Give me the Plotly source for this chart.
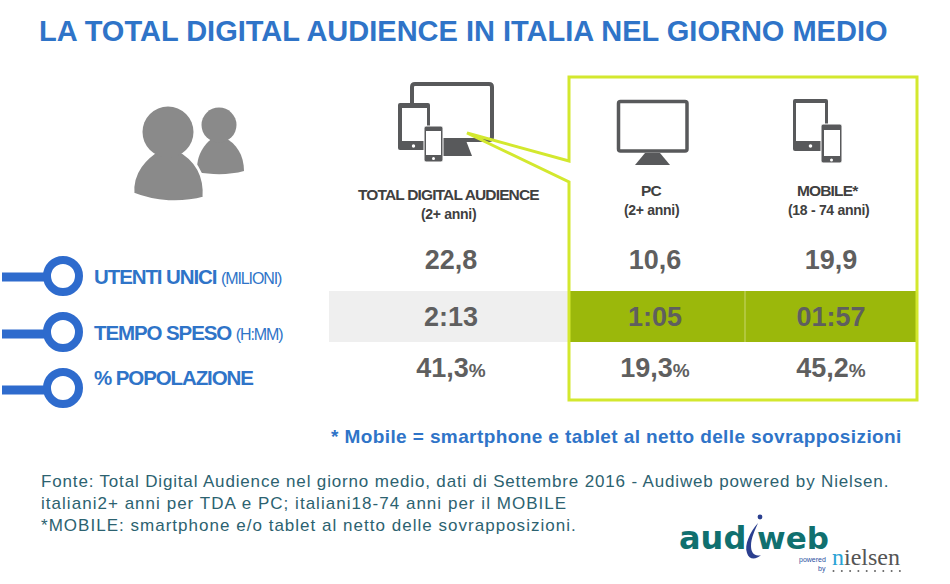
import plotly.graph_objects as go

# ---- content ----
TITLE = "LA TOTAL DIGITAL AUDIENCE IN ITALIA NEL GIORNO MEDIO"
COLUMNS = ["TOTAL DIGITAL AUDIENCE", "PC", "MOBILE*"]
COLUMN_AGES = ["(2+ anni)", "(2+ anni)", "(18 - 74 anni)"]
METRICS = ["UTENTI UNICI", "TEMPO SPESO", "% POPOLAZIONE"]
METRIC_UNITS = ["(MILIONI)", "(H:MM)", ""]
UTENTI_UNICI = ["22,8", "10,6", "19,9"]
TEMPO_SPESO = ["2:13", "1:05", "01:57"]
POPOLAZIONE = ["41,3", "19,3", "45,2"]
NOTE = "* Mobile = smartphone e tablet al netto delle sovrapposizioni"
SOURCE = [
    "Fonte: Total Digital Audience nel giorno medio, dati di Settembre 2016 - Audiweb powered by Nielsen.",
    "italiani2+ anni per TDA e PC; italiani18-74 anni per il MOBILE",
    "*MOBILE: smartphone e/o tablet al netto delle sovrapposizioni.",
]

# ---- styles ----
BLUE = "#2f74c8"
KNOB = "#2e6bcd"
DARK = "#58595b"
GREY = "#8a8a8a"
VAL = "#5f5f5f"
LIME = "#d3e82e"
GREEN = "#9bb80b"
TEAL = "#10706f"
SANS = "Liberation Sans"

shapes = []
def rect(x0, y0, x1, y1, fill, line=None, lw=0):
    shapes.append(dict(type="rect", layer="below", x0=x0, y0=y0, x1=x1, y1=y1, fillcolor=fill,
                       line=dict(color=line or fill, width=lw)))
def circ(cx, cy, r, fill, line=None, lw=0):
    shapes.append(dict(type="circle", layer="below", x0=cx-r, y0=cy-r, x1=cx+r, y1=cy+r, fillcolor=fill,
                       line=dict(color=line or fill, width=lw)))
def path(d, fill=None, line=None, lw=0):
    shapes.append(dict(type="path", layer="below", path=d, fillcolor=fill or "rgba(0,0,0,0)",
                       line=dict(color=line or "rgba(0,0,0,0)", width=lw)))
def rrect(x0, y0, x1, y1, r, fill, line=None, lw=0):
    path(f"M{x0+r},{y0} L{x1-r},{y0} Q{x1},{y0} {x1},{y0+r} L{x1},{y1-r} Q{x1},{y1} {x1-r},{y1} "
         f"L{x0+r},{y1} Q{x0},{y1} {x0},{y1-r} L{x0},{y0+r} Q{x0},{y0} {x0+r},{y0} Z", fill, line, lw)
def device(x0, y0, x1, y1, sx0, sy0, sx1, sy1, outline=False):
    rrect(x0, y0, x1, y1, 2, DARK, "white" if outline else None, 1 if outline else 0)
    rect(sx0, sy0, sx1, sy1, "white")

# row bands
rect(329, 291, 569, 342, "#efefef")
rect(569, 291, 917, 342, GREEN)
shapes.append(dict(type="line", layer="below", x0=745, x1=745, y0=291, y1=342, line=dict(color="#c8d66e", width=1)))

# people
path("M197,172 C196,155 205,143 213,138 L225,138 C236,143 244,155 244,171 C230,175 212,175 197,172 Z", GREY)
circ(219, 125, 17.5, GREY)
path("M133,194 C131,172 146,157 160,149 L177,149 C192,157 206,172 204,198 C182,204 155,203 133,194 Z", GREY, "white", 3)
circ(168, 132, 25.5, GREY)

# knobs
for cx, cy, by in [(63, 276, 277), (63, 332, 334), (63, 388, 390)]:
    rect(2, by-4.5, 46, by+4.5, KNOB)
    circ(cx, cy, 16, "white", KNOB, 8)

# combined devices
rrect(412, 84, 492, 140, 3, "white", DARK, 4)
path("M443,138 L465,138 L472,156 L443,156 Z", DARK)
device(398, 103, 430, 150, 402, 108, 427, 141)
device(424, 126, 443, 162, 426, 131, 441, 155, True)
circ(413.5, 146, 1.7, "white"); circ(433.5, 158.5, 1.5, "white")

# PC
rrect(618.5, 101.5, 687, 151, 2, "white", DARK, 3.5)
path("M645,153 L660,153 L670,165 L635,165 Z", DARK)

# mobile
device(793, 99, 828, 151, 796, 103, 825, 141)
device(821, 124, 842, 163, 824, 130, 840, 156, True)
circ(810.5, 146, 1.8, "white"); circ(831.5, 160, 1.5, "white")

# lime frame with callout
path("M569,161 L569,77 L917,77 L917,400 L569,400 L569,182 L467,133 Z", None, LIME, 3)

# logo swoosh
path("M758,523 C750,532 744,545 747,553 C749,560 756,560 761,555 C755,557 751,553 751,546 C751,538 755,530 758,523 Z", "#2b3f8f")
circ(760, 517, 2.4, "#2b3f8f")
for i in range(9):
    circ(833.5 + i*8.3, 571, 1, "#666666")

fig = go.Figure()

# data values, placed by the column/row position scales
COL_X = [451, 655, 831]
ROW_Y = [262, 319, 370]
for yy, vals, suffix in [(ROW_Y[0], UTENTI_UNICI, ""), (ROW_Y[1], TEMPO_SPESO, ""), (ROW_Y[2], POPOLAZIONE, "%")]:
    txt = [f"<b>{v}</b>" + (f'<b><span style="font-size:19px">{suffix}</span></b>' if suffix else "") for v in vals]
    fig.add_trace(go.Scatter(x=COL_X, y=[yy]*3, mode="text", text=txt, textposition="middle center",
                             textfont=dict(family=SANS, size=27, color=VAL), hoverinfo="skip", cliponaxis=False))

ann = []
def T(x, y, text, size, color, family=SANS, anchor="center", spacing=None):
    if spacing is not None:
        text = f'<span style="letter-spacing:{spacing}px">{text}</span>'
    ann.append(dict(x=x, y=y, text=text, xref="x", yref="y", showarrow=False, xanchor=anchor, yanchor="middle",
                    font=dict(family=family, size=size, color=color), align=anchor))

T(463, 31, f"<b>{TITLE}</b>", 29, BLUE)
for x, y0, name, age in zip([448, 651, 828], [194, 190, 190], COLUMNS, COLUMN_AGES):
    T(x, y0, f"<b>{name}</b>", 15.5, "#404040", SANS, "center", -0.85)
    T(x, y0+20, f"<b>{age}</b>", 14, "#404040", SANS, "center", -0.3)
for y, m, u in zip([276, 332, 377], METRICS, METRIC_UNITS):
    unit = f' <span style="font-size:16px;font-weight:normal">{u}</span>' if u else ""
    T(92, y, f"<b>{m}</b>{unit}", 20.5, BLUE, SANS, "left", -1.1)
T(329, 436, f"<b>{NOTE}</b>", 19, BLUE, SANS, "left", 0.4)
for y, s, sp in zip([481, 503, 525], SOURCE, [0.84, 1.03, 1.02]):
    T(39, y, s, 17, "#2c6270", SANS, "left", sp)
T(712.5, 538, "<b>aud</b>", 32, TEAL, "DejaVu Sans")
T(792.5, 538, "<b>web</b>", 31, TEAL, "DejaVu Sans")
T(828, 560, "powered", 7, "#2b4fa0", SANS, "right")
T(828, 569, "by", 7, "#2b4fa0", SANS, "right")
T(830, 557, '<span style="color:#2aa3d5">n</span>ielsen', 24, "#555555", "Liberation Serif", "left")

fig.update_layout(
    width=950, height=584, margin=dict(l=0, r=0, t=0, b=0), showlegend=False,
    paper_bgcolor="white", plot_bgcolor="white",
    xaxis=dict(range=[0, 950], visible=False, fixedrange=True),
    yaxis=dict(range=[584, 0], visible=False, fixedrange=True),
    shapes=shapes, annotations=ann,
)
fig.write_html("out.html", config={"displayModeBar": False},
               post_script="document.body.style.margin='0';")
